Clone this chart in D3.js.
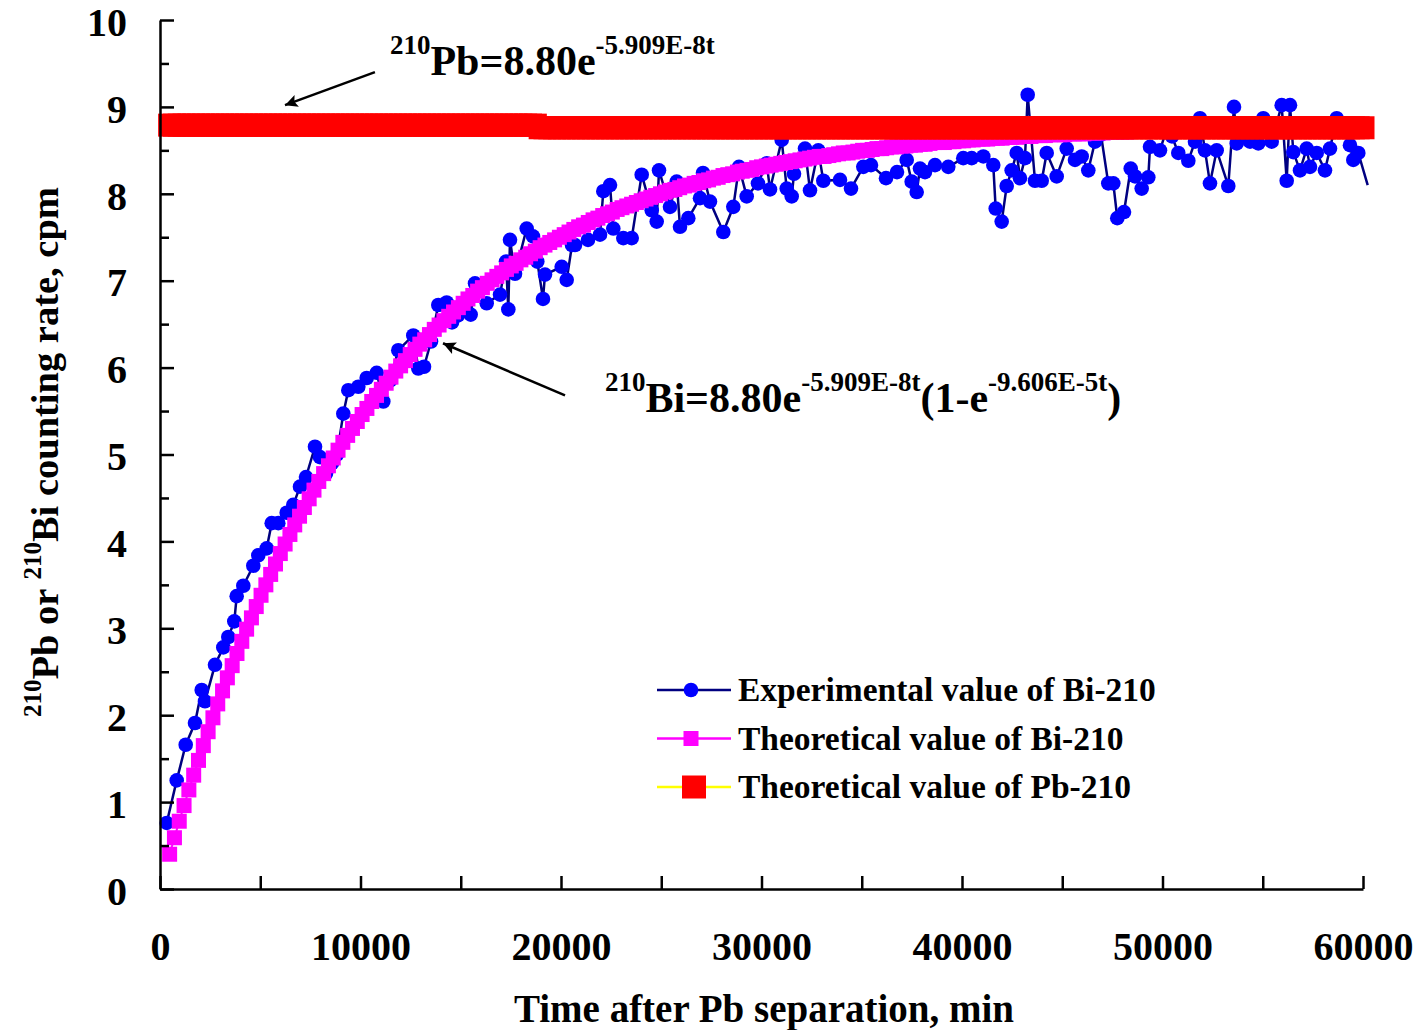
<!DOCTYPE html>
<html>
<head>
<meta charset="utf-8">
<script src="https://cdn.jsdelivr.net/npm/d3@7"></script>
<style>
  body { margin: 0; background: #fff; }
  text { font-family: "Liberation Serif", "Times New Roman", serif; font-weight: bold; fill: #000; }
</style>
</head>
<body>
<div id="chart"></div>
<script>
//////////////////////////////////////////////////////////////////////////////
// Data

// experimental Bi-210 counting rate (cpm) vs time after separation (min)
const expTimes = [
  334, 833, 1282, 1746, 2080, 2244, 2743, 3157, 3406, 3706,
  3825, 4155, 4653, 4903, 5322, 5571, 5900, 6319, 6648, 6983,
  7282, 7731, 7980, 8279, 8579, 8828, 9142, 9392, 9890, 10309,
  10808, 11137, 11471, 11885, 12633, 12883, 13167, 13516, 13880, 14299,
  14564, 14863, 15162, 15496, 15711, 16294, 16958, 17257, 17372, 17456,
  17706, 18289, 18603, 18818, 19102, 19202, 20035, 20284, 20549, 20698,
  21347, 21945, 22110, 22444, 22609, 23108, 23526, 24025, 24524, 24773,
  24888, 25436, 25771, 25935, 26349, 26933, 27082, 27431, 28095, 28593,
  28878, 29262, 29825, 30259, 30424, 31007, 31257, 31506, 31621, 32169,
  32419, 32833, 33082, 33915, 34464, 35077, 35461, 36209, 36758, 37242,
  37491, 37740, 37905, 38154, 38653, 39316, 40064, 40483, 41062, 41560,
  41680, 41979, 42229, 42478, 42728, 42893, 43142, 43276, 43641, 43975,
  44224, 44723, 45222, 45636, 45970, 46299, 46633, 46932, 47296, 47546,
  47745, 48080, 48414, 48628, 48962, 49292, 49376, 49875, 50174, 50474,
  50788, 51287, 51621, 51870, 52119, 52369, 52703, 53282, 53566, 53701,
  54015, 54364, 54778, 55027, 55446, 55944, 56194, 56359, 56524, 56858,
  57192, 57356, 57691, 58104, 58354, 58688, 59003, 59351, 59516, 59766,
  60234
];
const expValues = [
  0.76, 1.25, 1.66, 1.91, 2.29, 2.16, 2.58, 2.78, 2.90, 3.08,
  3.37, 3.49, 3.72, 3.84, 3.92, 4.21, 4.21, 4.33, 4.42, 4.63,
  4.74, 5.09, 4.97, 4.78, 4.90, 5.00, 5.47, 5.74, 5.78, 5.88,
  5.94, 5.61, 5.85, 6.20, 6.37, 5.99, 6.01, 6.30, 6.72, 6.75,
  6.52, 6.60, 6.68, 6.61, 6.97, 6.74, 6.84, 7.22, 6.67, 7.47,
  7.08, 7.60, 7.51, 7.22, 6.79, 7.07, 7.16, 7.01, 7.41, 7.41,
  7.47, 7.53, 8.03, 8.10, 7.60, 7.49, 7.49, 8.22, 7.81, 7.68,
  8.27, 7.85, 8.14, 7.62, 7.72, 7.95, 8.24, 7.91, 7.56, 7.85,
  8.31, 7.97, 8.12, 8.35, 8.05, 8.62, 8.06, 7.97, 8.23, 8.52,
  8.04, 8.50, 8.15, 8.16, 8.06, 8.31, 8.33, 8.18, 8.25, 8.39,
  8.14, 8.02, 8.29, 8.25, 8.33, 8.31, 8.41, 8.41, 8.43, 8.33,
  7.83, 7.68, 8.09, 8.27, 8.47, 8.18, 8.41, 9.14, 8.15, 8.15,
  8.47, 8.20, 8.52, 8.39, 8.43, 8.27, 8.60, 8.68, 8.12, 8.12,
  7.72, 7.79, 8.29, 8.20, 8.06, 8.19, 8.54, 8.50, 8.72, 8.66,
  8.47, 8.38, 8.60, 8.87, 8.50, 8.12, 8.50, 8.09, 9.00, 8.58,
  8.70, 8.60, 8.58, 8.87, 8.60, 9.02, 8.15, 9.02, 8.48, 8.27,
  8.52, 8.31, 8.47, 8.27, 8.52, 8.87, 8.72, 8.56, 8.39, 8.47,
  8.10
];

// sampling times of the two theoretical curves (min)
const theoryTimes = [
  480, 720, 960, 1200, 1440, 1680, 1920, 2160, 2400, 2640,
  2880, 3120, 3360, 3600, 3840, 4080, 4320, 4560, 4800, 5040,
  5280, 5520, 5760, 6000, 6240, 6480, 6720, 6960, 7200, 7440,
  7680, 7920, 8160, 8400, 8640, 8880, 9120, 9360, 9600, 9840,
  10080, 10320, 10560, 10800, 11040, 11280, 11520, 11760, 12000, 12240,
  12480, 12720, 12960, 13200, 13440, 13680, 13920, 14160, 14400, 14640,
  14880, 15120, 15360, 15600, 15840, 16080, 16320, 16560, 16800, 17040,
  17280, 17520, 17760, 18000, 18240, 18480, 18720, 18960, 19200, 19440,
  19680, 19920, 20160, 20400, 20640, 20880, 21120, 21360, 21600, 21840,
  22080, 22320, 22560, 22800, 23040, 23280, 23520, 23760, 24000, 24240,
  24480, 24720, 24960, 25200, 25440, 25680, 25920, 26160, 26400, 26640,
  26880, 27120, 27360, 27600, 27840, 28080, 28320, 28560, 28800, 29040,
  29280, 29520, 29760, 30000, 30240, 30480, 30720, 30960, 31200, 31440,
  31680, 31920, 32160, 32400, 32640, 32880, 33120, 33360, 33600, 33840,
  34080, 34320, 34560, 34800, 35040, 35280, 35520, 35760, 36000, 36240,
  36480, 36720, 36960, 37200, 37440, 37680, 37920, 38160, 38400, 38640,
  38880, 39120, 39360, 39600, 39840, 40080, 40320, 40560, 40800, 41040,
  41280, 41520, 41760, 42000, 42240, 42480, 42720, 42960, 43200, 43440,
  43680, 43920, 44160, 44400, 44640, 44880, 45120, 45360, 45600, 45840,
  46080, 46320, 46560, 46800, 47040, 47280, 47520, 47760, 48000, 48240,
  48480, 48720, 48960, 49200, 49440, 49680, 49920, 50160, 50400, 50640,
  50880, 51120, 51360, 51600, 51840, 52080, 52320, 52560, 52800, 53040,
  53280, 53520, 53760, 54000, 54240, 54480, 54720, 54960, 55200, 55440,
  55680, 55920, 56160, 56400, 56640, 56880, 57120, 57360, 57600, 57840,
  58080, 58320, 58560, 58800, 59040, 59280, 59520, 59760, 60000
];
// theoretical Bi-210 growth (cpm)
const biTheory = [
  0.40, 0.59, 0.78, 0.96, 1.14, 1.31, 1.48, 1.65, 1.81, 1.97,
  2.13, 2.28, 2.43, 2.57, 2.71, 2.85, 2.99, 3.12, 3.25, 3.38,
  3.50, 3.62, 3.74, 3.86, 3.97, 4.08, 4.19, 4.29, 4.39, 4.49,
  4.59, 4.69, 4.78, 4.87, 4.96, 5.05, 5.14, 5.22, 5.30, 5.38,
  5.46, 5.53, 5.61, 5.68, 5.75, 5.82, 5.89, 5.96, 6.02, 6.08,
  6.15, 6.21, 6.27, 6.32, 6.38, 6.44, 6.49, 6.54, 6.59, 6.64,
  6.69, 6.74, 6.79, 6.83, 6.88, 6.92, 6.97, 7.01, 7.05, 7.09,
  7.13, 7.17, 7.20, 7.24, 7.27, 7.31, 7.34, 7.38, 7.41, 7.44,
  7.47, 7.50, 7.53, 7.56, 7.59, 7.62, 7.64, 7.67, 7.70, 7.72,
  7.75, 7.77, 7.79, 7.82, 7.84, 7.86, 7.88, 7.90, 7.92, 7.94,
  7.96, 7.98, 8.00, 8.02, 8.04, 8.05, 8.07, 8.09, 8.10, 8.12,
  8.13, 8.15, 8.16, 8.18, 8.19, 8.21, 8.22, 8.23, 8.25, 8.26,
  8.27, 8.28, 8.30, 8.31, 8.32, 8.33, 8.34, 8.35, 8.36, 8.37,
  8.38, 8.39, 8.40, 8.41, 8.42, 8.43, 8.43, 8.44, 8.45, 8.46,
  8.47, 8.47, 8.48, 8.49, 8.50, 8.50, 8.51, 8.52, 8.52, 8.53,
  8.54, 8.54, 8.55, 8.55, 8.56, 8.56, 8.57, 8.57, 8.58, 8.59,
  8.59, 8.59, 8.60, 8.60, 8.61, 8.61, 8.62, 8.62, 8.63, 8.63,
  8.63, 8.64, 8.64, 8.64, 8.65, 8.65, 8.65, 8.66, 8.66, 8.66,
  8.67, 8.67, 8.67, 8.68, 8.68, 8.68, 8.68, 8.69, 8.69, 8.69,
  8.69, 8.70, 8.70, 8.70, 8.70, 8.71, 8.71, 8.71, 8.71, 8.71,
  8.72, 8.72, 8.72, 8.72, 8.72, 8.73, 8.73, 8.73, 8.73, 8.73,
  8.73, 8.74, 8.74, 8.74, 8.74, 8.74, 8.74, 8.74, 8.74, 8.75,
  8.75, 8.75, 8.75, 8.75, 8.75, 8.75, 8.75, 8.76, 8.76, 8.76,
  8.76, 8.76, 8.76, 8.76, 8.76, 8.76, 8.76, 8.76, 8.77, 8.77,
  8.77, 8.77, 8.77, 8.77, 8.77, 8.77, 8.77, 8.77, 8.77
];
// theoretical Pb-210 (cpm)
const pbTheory = [
  8.79, 8.79, 8.79, 8.79, 8.79, 8.79, 8.79, 8.79, 8.79, 8.79,
  8.79, 8.79, 8.79, 8.79, 8.79, 8.79, 8.79, 8.79, 8.79, 8.79,
  8.79, 8.79, 8.79, 8.79, 8.79, 8.79, 8.79, 8.79, 8.79, 8.79,
  8.79, 8.79, 8.79, 8.79, 8.79, 8.79, 8.79, 8.79, 8.79, 8.79,
  8.79, 8.79, 8.79, 8.79, 8.79, 8.79, 8.79, 8.79, 8.79, 8.79,
  8.79, 8.79, 8.79, 8.79, 8.79, 8.79, 8.79, 8.79, 8.79, 8.79,
  8.79, 8.79, 8.79, 8.79, 8.79, 8.79, 8.79, 8.79, 8.79, 8.79,
  8.79, 8.79, 8.79, 8.79, 8.79, 8.79, 8.79, 8.76, 8.76, 8.76,
  8.76, 8.76, 8.76, 8.76, 8.76, 8.76, 8.76, 8.76, 8.76, 8.76,
  8.76, 8.76, 8.76, 8.76, 8.76, 8.76, 8.76, 8.76, 8.76, 8.76,
  8.76, 8.76, 8.76, 8.76, 8.76, 8.76, 8.76, 8.76, 8.76, 8.76,
  8.76, 8.76, 8.76, 8.76, 8.76, 8.76, 8.76, 8.76, 8.76, 8.76,
  8.76, 8.76, 8.76, 8.76, 8.76, 8.76, 8.76, 8.76, 8.76, 8.76,
  8.76, 8.76, 8.76, 8.76, 8.76, 8.76, 8.76, 8.76, 8.76, 8.76,
  8.76, 8.76, 8.76, 8.76, 8.76, 8.76, 8.76, 8.76, 8.76, 8.76,
  8.76, 8.76, 8.76, 8.76, 8.76, 8.76, 8.76, 8.76, 8.76, 8.76,
  8.76, 8.76, 8.76, 8.76, 8.76, 8.76, 8.76, 8.76, 8.76, 8.76,
  8.76, 8.76, 8.76, 8.76, 8.76, 8.76, 8.76, 8.76, 8.76, 8.76,
  8.76, 8.76, 8.76, 8.76, 8.76, 8.76, 8.76, 8.76, 8.76, 8.76,
  8.76, 8.76, 8.76, 8.76, 8.76, 8.76, 8.76, 8.76, 8.76, 8.76,
  8.76, 8.76, 8.76, 8.76, 8.76, 8.76, 8.76, 8.76, 8.76, 8.76,
  8.76, 8.76, 8.76, 8.76, 8.76, 8.76, 8.76, 8.76, 8.76, 8.76,
  8.76, 8.76, 8.76, 8.76, 8.76, 8.76, 8.76, 8.76, 8.76, 8.76,
  8.76, 8.76, 8.76, 8.76, 8.76, 8.76, 8.76, 8.76, 8.76, 8.76,
  8.76, 8.76, 8.76, 8.76, 8.76, 8.76, 8.76, 8.76, 8.76
];

const xTicks = [0, 5000, 10000, 15000, 20000, 25000, 30000, 35000, 40000, 45000, 50000, 55000, 60000];
const xLabels = [0, 10000, 20000, 30000, 40000, 50000, 60000];
const yTicks = [0, 1, 2, 3, 4, 5, 6, 7, 8, 9, 10];
const yMinorTicks = [0.5, 1.5, 2.5, 3.5, 4.5, 5.5, 6.5, 7.5, 8.5, 9.5];
const legendLabels = ["Experimental value of Bi-210", "Theoretical value of Bi-210", "Theoretical value of Pb-210"];

//////////////////////////////////////////////////////////////////////////////
// Canvas and scales

const width = 1423;
const height = 1030;

const x = d3.scaleLinear().domain([0, 60000]).range([160, 1363]);
const y = d3.scaleLinear().domain([0, 10]).range([889, 20]);

const svg = d3.select("#chart").append("svg")
    .attr("width", width)
    .attr("height", height);

svg.append("defs").append("marker")
    .attr("id", "arrow")
    .attr("viewBox", "0 0 10 10")
    .attr("refX", 10).attr("refY", 5)
    .attr("markerWidth", 7).attr("markerHeight", 5)
    .attr("markerUnits", "strokeWidth")
    .attr("orient", "auto")
    .append("path")
    .attr("d", "M10,5 L0,0 L2,5 L0,10 Z")
    .attr("fill", "#000");

//////////////////////////////////////////////////////////////////////////////
// Series

const exp = expTimes.map((t, i) => ({t: t, v: expValues[i]}));
const bi = theoryTimes.map((t, i) => ({t: t, v: biTheory[i]}));
const pb = theoryTimes.map((t, i) => ({t: t, v: pbTheory[i]}));

const line = d3.line().x(d => x(d.t)).y(d => y(d.v));

// experimental: navy line, blue circles (markers past the plot edge are cut)
svg.append("path").datum(exp)
    .attr("d", line).attr("fill", "none")
    .attr("stroke", "#000080").attr("stroke-width", 2.5);
svg.append("g").selectAll("circle").data(exp.filter(d => d.t <= 60000)).join("circle")
    .attr("cx", d => x(d.t)).attr("cy", d => y(d.v))
    .attr("r", 7.3).attr("fill", "#0000ff");

// theoretical Bi: magenta squares
const sqBi = 15;
svg.append("path").datum(bi)
    .attr("d", line).attr("fill", "none")
    .attr("stroke", "#ff00ff").attr("stroke-width", 2);
svg.append("g").selectAll("rect").data(bi).join("rect")
    .attr("x", d => x(d.t) - sqBi / 2).attr("y", d => y(d.v) - sqBi / 2)
    .attr("width", sqBi).attr("height", sqBi)
    .attr("fill", "#ff00ff");

// theoretical Pb: yellow line, big red squares
const sqPb = 23;
svg.append("path").datum(pb)
    .attr("d", line).attr("fill", "none")
    .attr("stroke", "#ffff00").attr("stroke-width", 2);
svg.append("g").selectAll("rect").data(pb).join("rect")
    .attr("x", d => x(d.t) - sqPb / 2).attr("y", d => y(d.v) - sqPb / 2)
    .attr("width", sqPb).attr("height", sqPb)
    .attr("fill", "#ff0000");

//////////////////////////////////////////////////////////////////////////////
// Axes

svg.append("g")
    .attr("transform", `translate(${x(0)},0)`)
    .call(d3.axisLeft(y).tickValues(yTicks).tickSize(-14).tickSizeOuter(0)
        .tickPadding(33).tickFormat(d3.format("d")))
    .call(g => g.selectAll(".tick text").attr("dy", "0.38em"));
svg.append("g")
    .attr("transform", `translate(${x(0)},0)`)
    .call(d3.axisLeft(y).tickValues(yMinorTicks).tickSize(-9).tickSizeOuter(0).tickFormat(""))
    .call(g => g.select(".domain").remove());

svg.append("g")
    .attr("transform", `translate(0,${y(0)})`)
    .call(d3.axisBottom(x).tickValues(xTicks).tickSize(-13).tickSizeOuter(0)
        .tickPadding(43).tickFormat(d => xLabels.includes(d) ? d : ""));

svg.selectAll(".domain").attr("stroke", "#000").attr("stroke-width", 2.5);
svg.selectAll(".tick line").attr("stroke", "#000").attr("stroke-width", 2.5);
svg.selectAll(".tick text")
    .style("font-family", '"Liberation Serif", "Times New Roman", serif')
    .style("font-weight", "bold")
    .style("font-size", "40px")
    .attr("fill", "#000");

// axis titles
svg.append("text")
    .attr("x", 764).attr("y", 1022)
    .attr("text-anchor", "middle")
    .style("font-size", "39px")
    .text("Time after Pb separation, min");

const yTitle = svg.append("text")
    .attr("transform", "translate(58,452) rotate(-90)")
    .attr("text-anchor", "middle")
    .style("font-size", "38.5px");
yTitle.append("tspan").attr("dy", -17).style("font-size", "25px").text("210");
yTitle.append("tspan").attr("dy", 17).text("Pb or ");
yTitle.append("tspan").attr("dy", -17).style("font-size", "25px").text("210");
yTitle.append("tspan").attr("dy", 17).text("Bi counting rate, cpm");

//////////////////////////////////////////////////////////////////////////////
// Annotations

function supText(tx, ty, parts) {
  const t = svg.append("text").attr("x", x(tx)).attr("y", y(ty)).style("font-size", "42px");
  let up = false;
  parts.forEach(([s, sup]) => {
    const dy = sup && !up ? -21 : (!sup && up ? 21 : 0);
    up = sup;
    t.append("tspan").attr("dy", dy).style("font-size", sup ? "27px" : "42px").text(s);
  });
}

supText(11470, 9.37, [["210", true], ["Pb=8.80e", false], ["-5.909E-8t", true]]);
supText(22190, 5.49, [["210", true], ["Bi=8.80e", false], ["-5.909E-8t", true],
    ["(1-e", false], ["-9.606E-5t", true], [")", false]]);

const arrows = [
  {from: [10720, 9.40], to: [6234, 9.02]},
  {from: [20200, 5.68], to: [14115, 6.28]}
];
svg.append("g").selectAll("line").data(arrows).join("line")
    .attr("x1", d => x(d.from[0])).attr("y1", d => y(d.from[1]))
    .attr("x2", d => x(d.to[0])).attr("y2", d => y(d.to[1]))
    .attr("stroke", "#000").attr("stroke-width", 2.5)
    .attr("marker-end", "url(#arrow)");

//////////////////////////////////////////////////////////////////////////////
// Legend

const legend = svg.append("g").selectAll("g").data(legendLabels).join("g")
    .attr("transform", (d, i) => `translate(657,${690 + i * 48.5})`);
const legendLine = ["#000080", "#ff00ff", "#ffff00"];
legend.append("line")
    .attr("x1", 0).attr("x2", 74).attr("y1", 0).attr("y2", 0)
    .attr("stroke", (d, i) => legendLine[i]).attr("stroke-width", 2.5);
legend.filter((d, i) => i === 0).append("circle")
    .attr("cx", 34).attr("r", 7.3).attr("fill", "#0000ff");
legend.filter((d, i) => i === 1).append("rect")
    .attr("x", 34 - 7.5).attr("y", -7.5).attr("width", 15).attr("height", 15).attr("fill", "#ff00ff");
legend.filter((d, i) => i === 2).append("rect")
    .attr("x", 37 - 12).attr("y", -11.5).attr("width", 24).attr("height", 23).attr("fill", "#ff0000");
legend.append("text")
    .attr("x", 81).attr("y", 11)
    .style("font-size", "33.5px")
    .text(d => d);
</script>
</body>
</html>
